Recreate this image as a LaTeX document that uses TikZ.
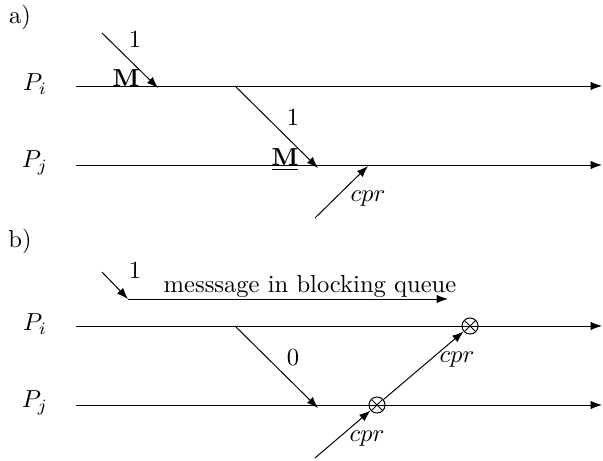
\documentclass[tikz,border=0pt]{standalone}
\usepackage{amsmath,amssymb}
\usetikzlibrary{arrows.meta}
\tikzset{
 otimes/.style={circle,draw,inner sep=0pt,minimum size=.23cm,
  path picture={\draw (path picture bounding box.north west)--(path picture bounding box.south east)
   (path picture bounding box.north east)--(path picture bounding box.south west);}},
}
\begin{document}
\begin{tikzpicture}[>={Latex[length=4.6pt,width=3.4pt]},x=.0143cm,y=-.0143cm]
 \useasboundingbox (0,0) rectangle (603,461);
 % a)
 \node (la) at (20,17) {a)};
 \foreach \y/\p/\n in {86/i/ai,165/j/aj,326/i/bi,405/j/bj}{
  \node (P\n) at (35,\y-2) {$P_\p$};
  \coordinate (s\n) at (76,\y);
  \coordinate (e\n) at (602,\y);
  \draw[->] (s\n)--(e\n);}
 \coordinate (ma0) at (102,33); \coordinate (ma1) at (158,88);
 \draw[->] (ma0)--(ma1);
 \node (ka1) at (135,40) {$1$};
 \node (Ma1) at (126,78) {$\mathbf{M}$};
 \coordinate (ma2) at (235,86); \coordinate (ma3) at (318,168);
 \draw[->] (ma2)--(ma3);
 \node (ka2) at (293,118) {$1$};
 \node (Ma2) at (285,160) {$\underline{\mathbf{M}}$};
 \coordinate (ca0) at (315,218); \coordinate (ca1) at (368,166);
 \draw[->] (ca0)--(ca1);
 \node (cpra) at (368,199) {$cpr$};
 % b)
 \node (lb) at (20,241) {b)};
 \coordinate (mb0) at (102,272); \coordinate (mb1) at (128,299);
 \draw[->] (mb0)--(mb1);
 \node (kb1) at (135,271) {$1$};
 \coordinate (qb) at (448,299);
 \draw[->] (mb1)--(qb);
 \node (queue) at (310,287) {messsage in blocking queue};
 \coordinate (mb2) at (235,326); \coordinate (mb3) at (318,408);
 \draw[->] (mb2)--(mb3);
 \node (kb2) at (293,358) {$0$};
 \node[otimes] (oti) at (470,326) {};
 \node[otimes] (otj) at (377,405) {};
 \coordinate (cb0) at (315,458);
 \draw[->] (cb0)--(otj);
 \draw[->] (otj)--(oti);
 \node (cprb1) at (457,360) {$cpr$};
 \node (cprb2) at (367,439) {$cpr$};
\end{tikzpicture}
\end{document}
